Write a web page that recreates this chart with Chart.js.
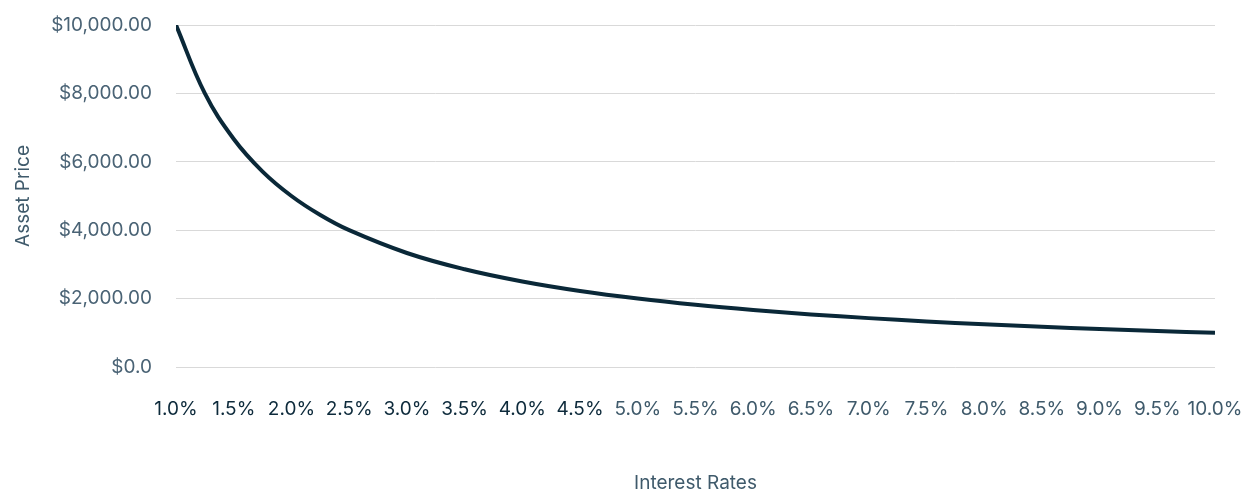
<!DOCTYPE html>
<html lang="en">
<head>
  <meta charset="UTF-8" />
  <title>Asset Price vs Interest Rates</title>
  <script src="https://cdn.jsdelivr.net/npm/chart.js"></script>
  <style>
    body { margin: 0; background: #ffffff; }
    #wrap { width: 1258px; height: 493px; }
  </style>
</head>
<body>
  <div id="wrap"><canvas id="priceChart"></canvas></div>

  <script>
    // interest rate (%) and asset price
    const rates = [1.0, 1.25, 1.5, 1.75, 2.0, 2.25, 2.5, 3.0, 3.5, 4.0, 4.5, 5.0, 5.5, 6.0, 6.5, 7.0, 7.5, 8.0, 8.5, 9.0, 9.5, 10.0];
    const prices = [10000, 8000, 6667, 5714, 5000, 4444, 4000, 3333, 2857, 2500, 2222, 2000, 1818, 1667, 1538, 1429, 1333, 1250, 1176, 1111, 1053, 1000];
    const xTicks = [1.0, 1.5, 2.0, 2.5, 3.0, 3.5, 4.0, 4.5, 5.0, 5.5, 6.0, 6.5, 7.0, 7.5, 8.0, 8.5, 9.0, 9.5, 10.0];
    const yTicks = [0, 2000, 4000, 6000, 8000, 10000];
    const yTickLabels = ['$0.0', '$2,000.00', '$4,000.00', '$6,000.00', '$8,000.00', '$10,000.00'];
    const darkUntil = 4.5; // labels up to 4.5% are drawn darker

    const font = "'Inter', 'Open Sans', sans-serif";

    new Chart(document.getElementById('priceChart'), {
      type: 'line',
      data: {
        datasets: [{
          label: 'Asset Price',
          data: rates.map((r, i) => ({ x: r, y: prices[i] })),
          borderColor: '#0a2838',
          borderWidth: 4,
          pointRadius: 0,
          tension: 0.4,
          borderCapStyle: 'butt'
        }]
      },
      options: {
        responsive: true,
        maintainAspectRatio: false,
        animation: false,
        layout: { padding: { top: 25, right: 43, left: 8, bottom: 0 } },
        plugins: { legend: { display: false }, tooltip: { enabled: false } },
        scales: {
          x: {
            type: 'linear',
            min: 1,
            max: 10,
            afterBuildTicks: (s) => { s.ticks = xTicks.map(v => ({ value: v })); },
            afterFit: (s) => { s.height = 126; },
            ticks: {
              color: (ctx) => ctx.tick && ctx.tick.value <= darkUntil ? '#0d2a3b' : '#3f5a6b',
              font: { family: font, size: 19 },
              padding: 2,
              maxRotation: 0,
              autoSkip: false,
              callback: (v) => v.toFixed(1) + '%'
            },
            grid: { display: false, drawTicks: true, tickLength: 29, tickColor: 'rgba(0,0,0,0)' },
            border: { display: false },
            title: {
              display: true,
              text: 'Interest Rates',
              color: '#3f5a6b',
              font: { family: font, size: 19, lineHeight: 1 },
              padding: { top: 53, bottom: 0 }
            }
          },
          y: {
            min: 0,
            max: 10000,
            afterBuildTicks: (s) => { s.ticks = yTicks.map(v => ({ value: v })); },
            afterFit: (s) => { s.width = 168; },
            ticks: {
              color: '#4a6375',
              font: { family: font, size: 19 },
              padding: 2,
              callback: (v) => yTickLabels[yTicks.indexOf(v)]
            },
            grid: { color: '#d9d9d9', lineWidth: 1, drawTicks: true, tickLength: 22, tickColor: 'rgba(0,0,0,0)' },
            border: { display: false },
            title: {
              display: true,
              text: 'Asset Price',
              color: '#3f5a6b',
              font: { family: font, size: 19 },
              padding: { bottom: 0 }
            }
          }
        }
      }
    });
  </script>
</body>
</html>
